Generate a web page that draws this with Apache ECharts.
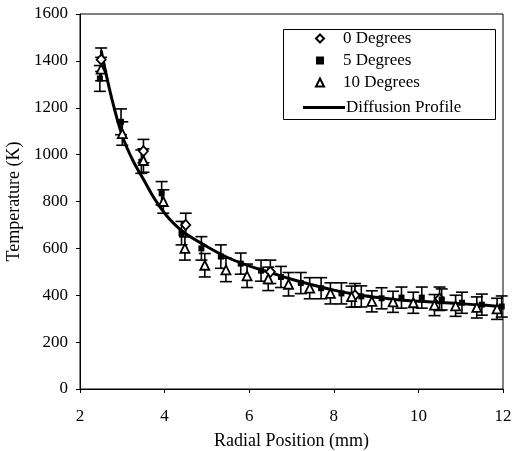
<!DOCTYPE html>
<html><head><meta charset="utf-8">
<script src="https://cdn.jsdelivr.net/npm/echarts@6/dist/echarts.min.js"></script>
<style>html,body{margin:0;padding:0;background:#fff}#c{width:512px;height:451px}</style>
</head><body><div id="c"></div>
<script>
// 0 Degrees
var x0 = [2.5, 3.5, 4.5, 6.5, 8.5, 10.5];
var y0 = [1405, 1015, 700, 500, 400, 385];
var e0 = [50, 50, 50, 50, 50, 50];
// 5 Degrees
var x5 = [2.47, 2.97, 3.45, 3.93, 4.4, 4.87, 5.33, 5.8, 6.28, 6.75, 7.22, 7.7, 8.18, 8.65, 9.13, 9.6, 10.08, 10.55, 11.03, 11.5, 11.97];
var y5 = [1325, 1140, 970, 835, 665, 600, 565, 535, 505, 478, 452, 430, 408, 395, 387, 390, 390, 382, 368, 360, 352];
var e5 = [55, 55, 50, 50, 50, 50, 50, 45, 45, 45, 45, 45, 45, 45, 45, 45, 45, 45, 45, 45, 45];
// 10 Degrees
var x10 = [2.5, 3.0, 3.5, 3.97, 4.48, 4.95, 5.45, 5.95, 6.45, 6.93, 7.43, 7.92, 8.42, 8.9, 9.4, 9.88, 10.38, 10.88, 11.38, 11.86];
var y10 = [1365, 1090, 975, 800, 600, 528, 508, 483, 470, 447, 430, 408, 394, 374, 372, 368, 358, 355, 348, 342];
var e10 = [50, 50, 50, 50, 50, 50, 50, 50, 50, 50, 45, 45, 45, 45, 45, 45, 45, 45, 45, 45];
// Diffusion Profile
var xc = [2.5, 2.75, 3.0, 3.25, 3.5, 3.75, 4.0, 4.25, 4.5, 5.0, 5.5, 6.0, 6.5, 7.0, 7.5, 8.0, 8.5, 9.0, 9.5, 10.0, 10.5, 11.0, 11.5, 12.0];
var yc = [1445, 1240, 1080, 975, 895, 815, 750, 700, 662, 608, 560, 525, 497, 468, 444, 422, 404, 391, 381, 374, 369, 364, 358, 350];
// axis ticks
var xTicks = [2, 4, 6, 8, 10, 12];
var yTicks = [0, 200, 400, 600, 800, 1000, 1200, 1400, 1600];

function pts(xs, ys){ return xs.map(function(v,i){return [v, ys[i]];}); }
function errs(xs, ys, es){ return xs.map(function(v,i){return [v, ys[i]-es[i], ys[i]+es[i]];}); }
function errSeries(data){
  return {
    type:'custom', silent:true, z:2,
    data:data,
    renderItem:function(params, api){
      var x=api.value(0);
      var lo=api.coord([x, api.value(1)]);
      var hi=api.coord([x, api.value(2)]);
      var w=6;
      var st={stroke:'#000', lineWidth:1.6};
      return {type:'group', children:[
        {type:'line', shape:{x1:lo[0],y1:lo[1],x2:hi[0],y2:hi[1]}, style:st},
        {type:'line', shape:{x1:lo[0]-w,y1:lo[1],x2:lo[0]+w,y2:lo[1]}, style:st},
        {type:'line', shape:{x1:hi[0]-w,y1:hi[1],x2:hi[0]+w,y2:hi[1]}, style:st}
      ]};
    }
  };
}
var font = 'Liberation Serif';
var chart = echarts.init(document.getElementById('c'), null, {renderer:'canvas'});
chart.setOption({
  animation:false,
  textStyle:{fontFamily:font},
  grid:{left:80, right:9, top:14, bottom:62, containLabel:false, outerBoundsMode:'none',
        show:true, borderColor:'#000', borderWidth:1},
  xAxis:{type:'value', min:xTicks[0], max:xTicks[xTicks.length-1], interval:2,
    name:'Radial Position (mm)', nameLocation:'middle', nameGap:43,
    nameTextStyle:{fontFamily:font, fontSize:18, color:'#000'},
    axisLine:{lineStyle:{color:'#000'}}, axisTick:{show:true, length:4, lineStyle:{color:'#000'}},
    axisLabel:{fontFamily:font, fontSize:17, color:'#000', margin:19},
    splitLine:{show:false}},
  yAxis:{type:'value', min:yTicks[0], max:yTicks[yTicks.length-1], interval:200,
    name:'Temperature (K)', nameLocation:'middle', nameGap:50,
    nameTextStyle:{fontFamily:font, fontSize:18, color:'#000'},
    axisLine:{show:true, lineStyle:{color:'#000'}}, axisTick:{show:true, length:4, lineStyle:{color:'#000'}},
    axisLabel:{fontFamily:font, fontSize:17, color:'#000', margin:12, formatter:function(v){return String(v);}},
    splitLine:{show:false}},
  legend:[
    {data:['0 Degrees','5 Degrees','10 Degrees'], orient:'vertical', left:310, top:25, itemGap:5,
     itemWidth:8, itemHeight:8, textStyle:{fontFamily:font, fontSize:17, color:'#000', padding:[0,0,0,14]}, selectedMode:false},
    {data:[{name:'Diffusion Profile', icon:'rect'}], orient:'vertical', left:298, top:94, itemWidth:42, itemHeight:3,
     itemGap:0, textStyle:{fontFamily:font, fontSize:17, color:'#000', padding:[0,0,0,-4]}, selectedMode:false}
  ],
  graphic:[{type:'rect', left:281, top:27, shape:{width:212, height:90}, style:{fill:'none', stroke:'#000', lineWidth:1}, z:100}],
  series:[
    errSeries(errs(x0,y0,e0)),
    errSeries(errs(x5,y5,e5)),
    errSeries(errs(x10,y10,e10)),
    {name:'Diffusion Profile', type:'line', data:pts(xc,yc), smooth:0.4, showSymbol:false, symbol:'none',
     lineStyle:{color:'#000', width:3}, itemStyle:{color:'#000'}, z:3},
    {name:'0 Degrees', type:'scatter', data:pts(x0,y0), symbol:'diamond', symbolSize:[9,10],
     itemStyle:{color:'#fff', borderColor:'#000', borderWidth:1.8, opacity:1}, z:5},
    {name:'5 Degrees', type:'scatter', data:pts(x5,y5), symbol:'rect', symbolSize:6,
     itemStyle:{color:'#000', borderColor:'#000', borderWidth:0, opacity:1}, z:5},
    {name:'10 Degrees', type:'scatter', data:pts(x10,y10), symbol:'triangle', symbolSize:[9,9],
     itemStyle:{color:'#fff', borderColor:'#000', borderWidth:1.8, opacity:1}, z:5}
  ]
});
</script>
</body></html>
